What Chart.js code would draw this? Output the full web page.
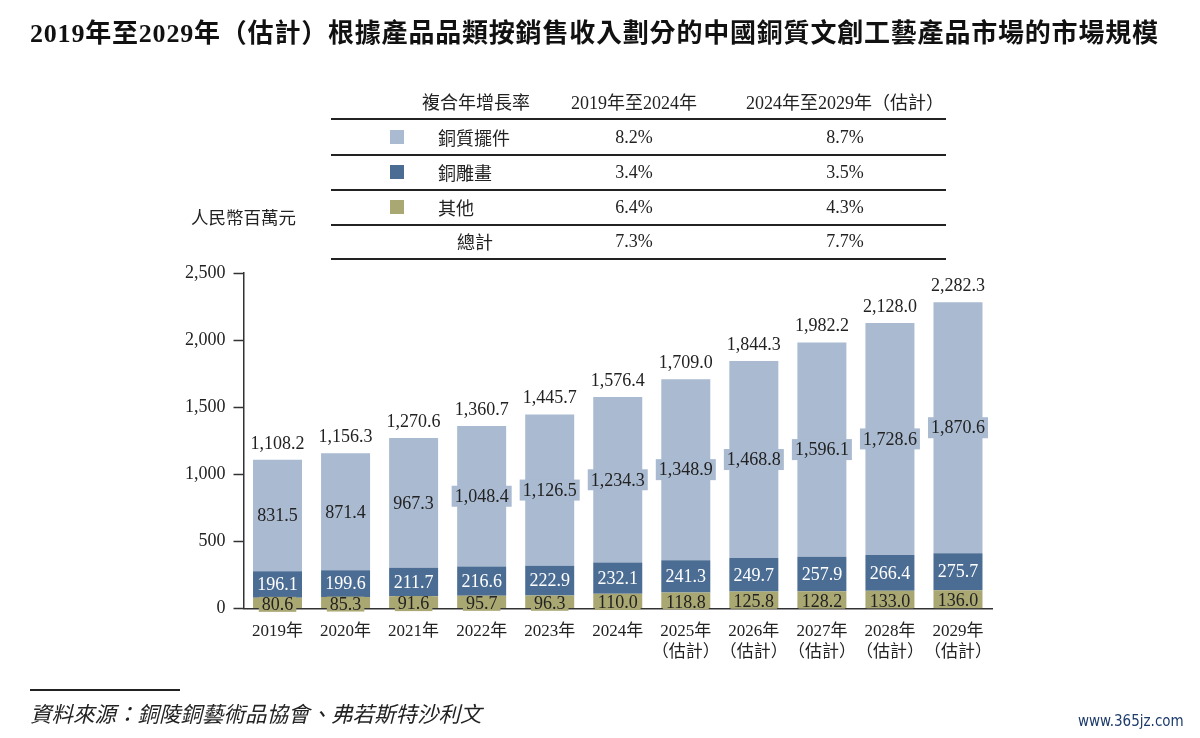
<!DOCTYPE html>
<html>
<head>
<meta charset="utf-8">
<script src="https://cdn.jsdelivr.net/npm/chart.js@4/dist/chart.umd.min.js"></script>
<style>
  html, body { margin:0; padding:0; background:#fff; }
  body { width:1200px; height:738px; position:relative; overflow:hidden;
         font-family:"Liberation Serif","Noto Sans CJK TC",serif; color:#222; }
  .t { position:absolute; white-space:nowrap; }
  #title { left:30px; top:12px; font-size:26px; letter-spacing:0.8px; font-weight:bold; color:#111; }
  .hl { position:absolute; left:331px; width:615px; background:#222; }
  .sq { position:absolute; width:14px; height:14px; }
  .cell { position:absolute; font-size:18px; transform:translate(-50%,-50%); white-space:nowrap; }
  #src { left:30px; top:697px; font-size:21.5px; font-style:italic; color:#222; }
  #wm { left:1078px; top:712px; font-size:15px; color:#1d3b6b;
        font-family:"Liberation Sans Narrow","DejaVu Sans Condensed",sans-serif; }
</style>
</head>
<body>
<canvas id="c" width="1200" height="738" style="position:absolute;left:0;top:0;"></canvas>
<div id="title" class="t">2019年至2029年（估計）根據產品品類按銷售收入劃分的中國銅質文創工藝產品市場的市場規模</div>
<div id="legend"></div>
<div class="t" style="left:191px;top:204px;font-size:17.5px;">人民幣百萬元</div>
<div style="position:absolute;left:30px;top:689px;width:150px;height:1.5px;background:#222;"></div>
<div id="src" class="t">資料來源：銅陵銅藝術品協會、弗若斯特沙利文</div>
<div id="wm" class="t">www.365jz.com</div>
<script>
// data
var years = ['2019年','2020年','2021年','2022年','2023年','2024年',
    ['2025年','（估計）'],['2026年','（估計）'],['2027年','（估計）'],['2028年','（估計）'],['2029年','（估計）']];
var ornaments = [831.5, 871.4, 967.3, 1048.4, 1126.5, 1234.3, 1348.9, 1468.8, 1596.1, 1728.6, 1870.6];
var paintings = [196.1, 199.6, 211.7, 216.6, 222.9, 232.1, 241.3, 249.7, 257.9, 266.4, 275.7];
var others = [80.6, 85.3, 91.6, 95.7, 96.3, 110.0, 118.8, 125.8, 128.2, 133.0, 136.0];
var totals = [1108.2, 1156.3, 1270.6, 1360.7, 1445.7, 1576.4, 1709.0, 1844.3, 1982.2, 2128.0, 2282.3];

var seriesNames = ['銅質擺件','銅雕畫','其他','總計'];
var cagrHeads = ['複合年增長率','2019年至2024年','2024年至2029年（估計）'];
var cagr1 = ['8.2%','3.4%','6.4%','7.3%'];
var cagr2 = ['8.7%','3.5%','4.3%','7.7%'];

var LIGHT = '#a9bad1', DARK = '#4b6d94', OLIVE = '#a9a772';
var colors = [LIGHT, DARK, OLIVE];

function fmt(v){
    var s = v.toFixed(1).split('.');
    return s[0].replace(/\B(?=(\d{3})+(?!\d))/g, ',') + '.' + s[1];
}

// legend / CAGR table
function buildLegend(){
    var box = document.getElementById('legend');
    function cell(text, x, y, extra){
        var d = document.createElement('div');
        d.className = 'cell';
        d.style.left = x + 'px';
        d.style.top = y + 'px';
        if(extra){ d.style.transform = 'translate(0,-50%)'; }
        d.innerText = text;
        box.appendChild(d);
    }
    function line(y, h){
        var l = document.createElement('div');
        l.className = 'hl';
        l.style.top = y + 'px';
        l.style.height = h + 'px';
        box.appendChild(l);
    }
    cell(cagrHeads[0], 476, 101);
    cell(cagrHeads[1], 634, 101);
    cell(cagrHeads[2], 845, 101);
    line(118, 2);
    var rowsY = [137, 172, 207, 241];
    for(var i = 0; i < 4; i++){
        var y = rowsY[i];
        if(i < 3){
            var sq = document.createElement('div');
            sq.className = 'sq';
            sq.style.left = '390px';
            sq.style.top = (y - 7) + 'px';
            sq.style.background = colors[i];
            box.appendChild(sq);
            cell(seriesNames[i], 438, y, true);
        } else {
            cell(seriesNames[i], 457, y, true);
        }
        cell(cagr1[i], 634, y);
        cell(cagr2[i], 845, y);
        line(y + 17, i == 3 ? 2 : 1.5);
    }
}
buildLegend();

var barLabels = {
    id: 'barLabels',
    afterDatasetsDraw: function(chart){
        var ctx = chart.ctx;
        ctx.save();
        ctx.font = '18px "Liberation Serif", serif';
        ctx.textAlign = 'center';
        ctx.textBaseline = 'middle';
        chart.data.datasets.forEach(function(ds, i){
            var meta = chart.getDatasetMeta(i);
            meta.data.forEach(function(bar, j){
                var txt = fmt(ds.data[j]);
                var cy = (bar.y + bar.base) / 2 + ds.labelShift;
                var w = ctx.measureText(txt).width + 6;
                ctx.fillStyle = ds.backgroundColor;
                ctx.fillRect(bar.x - w/2, cy - ds.boxH/2, w, ds.boxH);
                ctx.fillStyle = ds.labelColor;
                ctx.fillText(txt, bar.x, cy + 1);
            });
        });
        var topMeta = chart.getDatasetMeta(2);
        ctx.fillStyle = '#222';
        ctx.textBaseline = 'bottom';
        topMeta.data.forEach(function(bar, j){
            ctx.fillText(fmt(totals[j]), bar.x, bar.y - 7);
        });
        ctx.restore();
    }
};

var ctx = document.getElementById('c').getContext('2d');
var chart = new Chart(ctx, {
    type: 'bar',
    data: {
        labels: years,
        datasets: [
            { label: '其他', data: others, backgroundColor: OLIVE, labelColor: '#222', boxH: 15, labelShift: 1.5 },
            { label: '銅雕畫', data: paintings, backgroundColor: DARK, labelColor: '#fff', boxH: 21, labelShift: 0 },
            { label: '銅質擺件', data: ornaments, backgroundColor: LIGHT, labelColor: '#222', boxH: 21, labelShift: 0 }
        ]
    },
    options: {
        responsive: false,
        animation: false,
        devicePixelRatio: 1,
        barPercentage: 0.72,
        categoryPercentage: 1,
        layout: { padding: { left: 0, right: 208, top: 273, bottom: 0 } },
        plugins: { legend: { display: false }, tooltip: { enabled: false } },
        scales: {
            x: {
                stacked: true,
                grid: { display: false },
                border: { color: '#333', width: 1.5 },
                ticks: { color: '#222', padding: 4, autoSkip: false, maxRotation: 0,
                    font: { family: '"Liberation Serif","Noto Sans CJK TC",serif', size: 17, lineHeight: 1.25 } },
                afterFit: function(scale){ scale.height = 738 - 608.5; }
            },
            y: {
                stacked: true,
                min: 0, max: 2500,
                grid: { drawOnChartArea: false, drawTicks: true, tickLength: 10, tickColor: '#333', tickWidth: 1.5 },
                border: { color: '#333', width: 1.5 },
                ticks: { stepSize: 500, color: '#222', padding: 8,
                    font: { family: '"Liberation Serif",serif', size: 18 },
                    callback: function(v){ return String(v).replace(/\B(?=(\d{3})+(?!\d))/g, ','); } },
                afterFit: function(scale){ scale.width = 243.5; }
            }
        }
    },
    plugins: [barLabels]
});
</script>
</body>
</html>
